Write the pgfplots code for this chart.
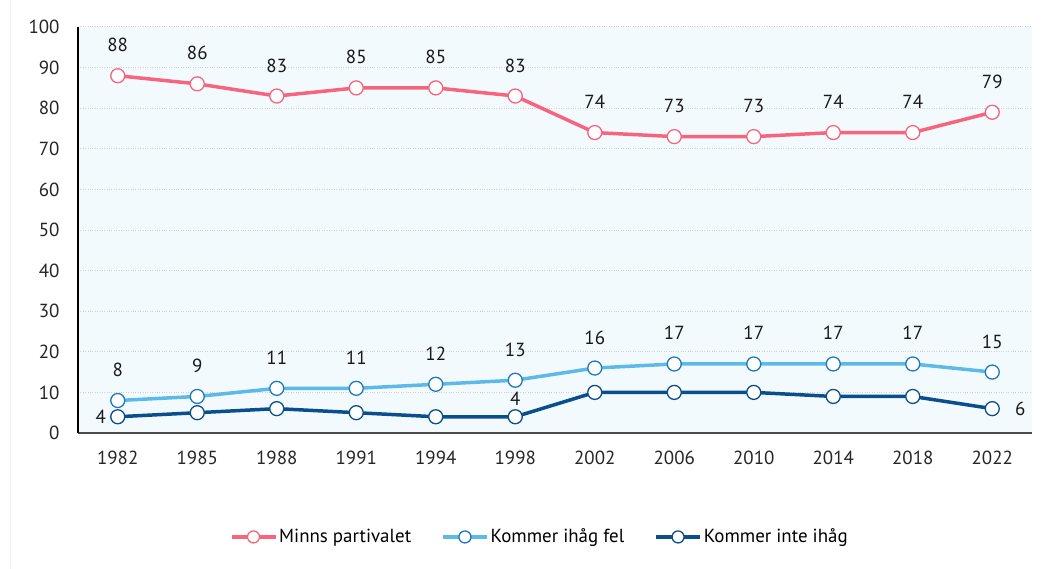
\documentclass[border=0pt]{standalone}
\usepackage{pgfplots}
\pgfplotsset{compat=1.18}
\usepackage{fontspec}
\setmainfont{PT Sans}
\definecolor{cpink}{RGB}{247,100,126}
\definecolor{clight}{RGB}{92,186,232}
\definecolor{clightedge}{RGB}{30,120,190}
\definecolor{cdark}{RGB}{10,79,140}
\definecolor{cbg}{RGB}{243,250,254}
\definecolor{cgrid}{RGB}{210,210,210}
\begin{document}
\begin{tikzpicture}
\fontsize{19}{22}\selectfont
\path[use as bounding box, fill=white] (-78bp,-136bp) rectangle (972bp,433bp);
\draw[color={rgb,255:red,236;green,244;blue,248}] (-68bp,-136bp) -- (-68bp,433bp);
\begin{axis}[
  at={(0,0)}, anchor=south west,
  scale only axis, width=954bp, height=406bp,
  xmin=-0.5, xmax=11.5, ymin=0, ymax=100,
  xtick={0,...,11},
  xticklabels={1982,1985,1988,1991,1994,1998,2002,2006,2010,2014,2018,2022},
  ytick={0,10,...,100},
  major tick length=0pt,
  tick label style={font=\fontsize{19}{22}\selectfont, text=black!85},
  /pgf/number format/assume math mode=true,
  yticklabel style={xshift=-12bp},
  xticklabel style={yshift=-12bp},
  ymajorgrids, grid style={cgrid, dotted, line width=1pt},
  axis x line*=bottom, axis y line*=left,
  x axis line style={black!70, line width=1.2pt, -},
  y axis line style={black, line width=1.2pt, -},
  axis background/.style={fill=cbg},
  clip=false,
  every axis plot/.append style={line width=3.5pt},
  legend style={at={(0.484,-0.256)}, anchor=center, draw=none, fill=none,
    legend columns=3, font=\fontsize{19}{22}\selectfont,
    /tikz/every even column/.append style={column sep=28bp}},
  legend cell align=left,
  legend image code/.code={\draw[mark repeat=2,mark phase=2,#1,mark size=6bp] plot coordinates {(0bp,0bp) (22bp,0bp) (44bp,0bp)};},
  nodes near coords style={font=\fontsize{19}{22}\selectfont, text=black!90, inner sep=0pt},
]
\addplot[cpink, mark=*, mark size=7bp, mark options={fill=white, draw=cpink, line width=1.3pt}, nodes near coords,
  every node near coord/.append style={anchor=base, yshift=24bp}]
 coordinates {(0,88)(1,86)(2,83)(3,85)(4,85)(5,83)(6,74)(7,73)(8,73)(9,74)(10,74)(11,79)};
\addlegendentry{Minns partivalet}
\addplot[clight, mark=*, mark size=7bp, mark options={fill=white, draw=clightedge, line width=1.3pt}, nodes near coords,
  every node near coord/.append style={anchor=base, yshift=24bp}]
 coordinates {(0,8)(1,9)(2,11)(3,11)(4,12)(5,13)(6,16)(7,17)(8,17)(9,17)(10,17)(11,15)};
\addlegendentry{Kommer ihåg fel}
\addplot[cdark, mark=*, mark size=7bp, mark options={fill=white, draw=cdark, line width=1.3pt}]
 coordinates {(0,4)(1,5)(2,6)(3,5)(4,4)(5,4)(6,10)(7,10)(8,10)(9,9)(10,9)(11,6)};
\addlegendentry{Kommer inte ihåg}
\addplot[draw=none, forget plot, nodes near coords, point meta=explicit symbolic,
  every node near coord/.append style={anchor=east, xshift=-10bp}]
 coordinates {(0,4) [4]};
\addplot[draw=none, forget plot, nodes near coords, point meta=explicit symbolic,
  every node near coord/.append style={anchor=base, yshift=11bp}]
 coordinates {(5,4) [4]};
\addplot[draw=none, forget plot, nodes near coords, point meta=explicit symbolic,
  every node near coord/.append style={anchor=west, xshift=21bp}]
 coordinates {(11,6) [6]};
\end{axis}
\end{tikzpicture}
\end{document}
